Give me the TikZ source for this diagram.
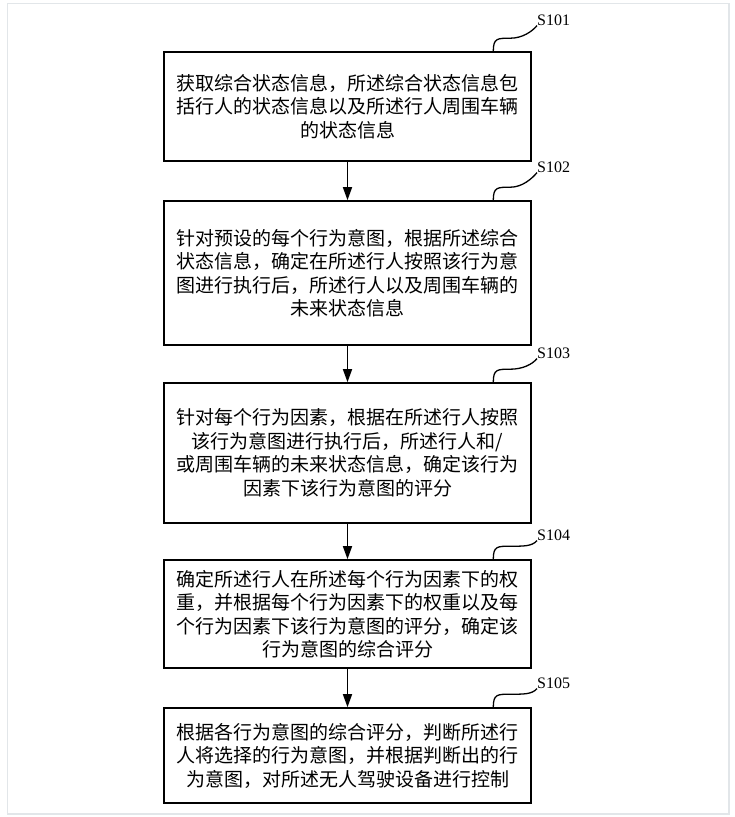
\documentclass[tikz,border=0pt]{standalone}
\usepackage{fontspec}
\setmainfont{Liberation Serif}
\newfontfamily\cjk{Noto Sans CJK SC}
\usetikzlibrary{arrows.meta}
\definecolor{framegray}{RGB}{226,230,233}

\newcommand\wave[2]{%
  \draw[wavy] ([xshift=-38.5pt]#1.north east)
    .. controls +(0,-13) and +(-13,0) .. ++(17,-13)
    .. controls +(12,0) and +(-5,6) .. (#2.south west);}

\begin{document}
\begin{tikzpicture}[x=1pt, y=-1pt,
  stepbox/.style={draw, line width=1.6pt, text width=351pt, inner sep=8pt,
    align=center, font=\cjk\fontsize{19}{23.5}\selectfont},
  flow/.style={-{Triangle[length=13pt,width=9pt]}, line width=1.5pt},
  wavy/.style={line width=1.3pt},
  steplabel/.style={anchor=west, inner sep=0pt, font=\fontsize{16}{16}\selectfont}]
  \useasboundingbox (0,0) rectangle (734,817);
  % 外框
  \draw[framegray, line width=1.2pt] (7.5,3.5) rectangle (729,814);
  % 步骤框
  \node[stepbox, minimum height=109pt] (s1) at (347.5,106.5)
    {获取综合状态信息，所述综合状态信息包\\括行人的状态信息以及所述行人周围车辆\\的状态信息};
  \node[stepbox, minimum height=144pt] (s2) at (347.5,273)
    {针对预设的每个行为意图，根据所述综合\\状态信息，确定在所述行人按照该行为意\\图进行执行后，所述行人以及周围车辆的\\未来状态信息};
  \node[stepbox, minimum height=140pt] (s3) at (347.5,453)
    {针对每个行为因素，根据在所述行人按照\\该行为意图进行执行后，所述行人和/\\或周围车辆的未来状态信息，确定该行为\\因素下该行为意图的评分};
  \node[stepbox, minimum height=108pt] (s4) at (347.5,614)
    {确定所述行人在所述每个行为因素下的权\\重，并根据每个行为因素下的权重以及每\\个行为因素下该行为意图的评分，确定该\\行为意图的综合评分};
  \node[stepbox, minimum height=95pt] (s5) at (347.5,755.5)
    {根据各行为意图的综合评分，判断所述行\\人将选择的行为意图，并根据判断出的行\\为意图，对所述无人驾驶设备进行控制};
  % 步骤编号
  \node[steplabel] (l1) at (537,20)  {S101};
  \node[steplabel] (l2) at (537,167) {S102};
  \node[steplabel] (l3) at (537,353) {S103};
  \node[steplabel] (l4) at (537,535) {S104};
  \node[steplabel] (l5) at (537,683) {S105};
  \wave{s1}{l1}
  \wave{s2}{l2}
  \wave{s3}{l3}
  \wave{s4}{l4}
  \wave{s5}{l5}
  % 箭头
  \draw[flow] (s1) -- (s2);
  \draw[flow] (s2) -- (s3);
  \draw[flow] (s3) -- (s4);
  \draw[flow] (s4) -- (s5);
\end{tikzpicture}
\end{document}
